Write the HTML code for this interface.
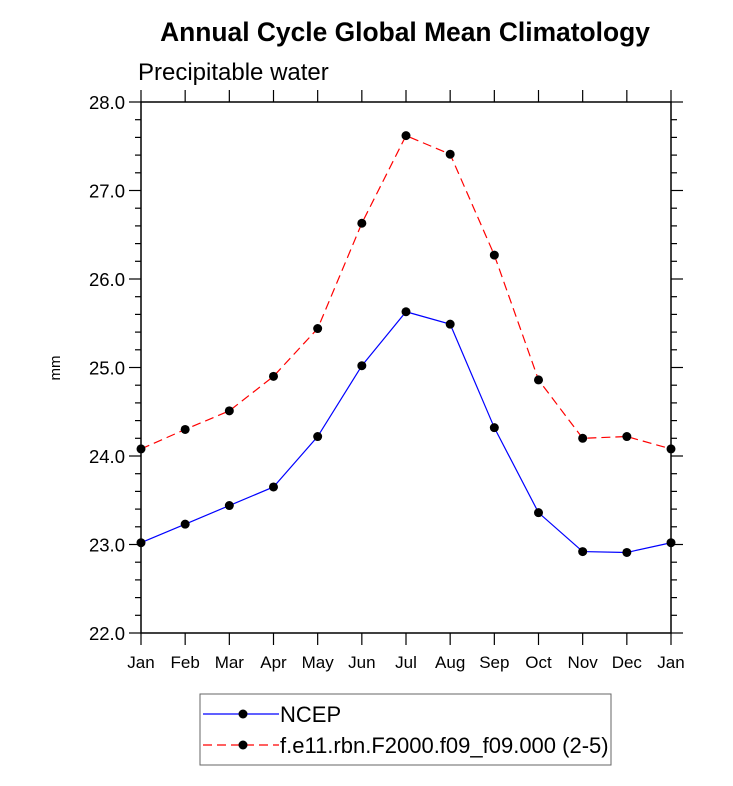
<!DOCTYPE html>
<html><head><meta charset="utf-8"><style>body{margin:0;background:#fff}svg{display:block;font-family:"Liberation Sans",sans-serif}</style></head>
<body>
<svg id="chart" width="733" height="786" xmlns="http://www.w3.org/2000/svg">
<text x="405" y="41" text-anchor="middle" font-size="26.4" font-weight="bold">Annual Cycle Global Mean Climatology</text>
<text x="138" y="80" font-size="24">Precipitable water</text>
<text transform="translate(60,368) rotate(-90)" text-anchor="middle" font-size="15">mm</text>
<g id="axes"></g><g id="series"></g>
<g>
<rect x="200" y="694" width="411" height="71" fill="#fff" stroke="#666" stroke-width="1"/>
<line x1="203" y1="714" x2="279" y2="714" stroke="#0000ff" stroke-width="1.2"/>
<circle cx="243" cy="714" r="4.5" fill="#000"/>
<text x="280" y="722" font-size="22">NCEP</text>
<line x1="203" y1="745" x2="279" y2="745" stroke="#ff0000" stroke-width="1.2" stroke-dasharray="9,5"/>
<circle cx="243" cy="745" r="4.5" fill="#000"/>
<text x="280" y="753" font-size="22">f.e11.rbn.F2000.f09_f09.000 (2-5)</text>
</g>
</svg>
<script>
const months=["Jan","Feb","Mar","Apr","May","Jun","Jul","Aug","Sep","Oct","Nov","Dec","Jan"];
const ncep=[23.02,23.23,23.44,23.65,24.22,25.02,25.63,25.49,24.32,23.36,22.92,22.91,23.02];
const model=[24.08,24.30,24.51,24.90,25.44,26.63,27.62,27.41,26.27,24.86,24.20,24.22,24.08];
const yTicks=["22.0","23.0","24.0","25.0","26.0","27.0","28.0"];
const L=141,R=671,T=102,B=633,yMin=22,yMax=28;
const NS="http://www.w3.org/2000/svg";
const xs=i=>L+(R-L)*i/(months.length-1);
const ys=v=>B-(B-T)*(v-yMin)/(yMax-yMin);
function mk(t,a,p){const e=document.createElementNS(NS,t);for(const k in a)e.setAttribute(k,a[k]);p.appendChild(e);return e;}
const ax=document.getElementById('axes');
const fr=mk('rect',{x:L,y:T,width:R-L,height:B-T,fill:'none',stroke:'#000','stroke-width':1.5},ax);


months.forEach((m,i)=>{const x=xs(i);
mk('line',{x1:x,y1:B,x2:x,y2:B+12,stroke:'#000','stroke-width':1.2},ax);
mk('line',{x1:x,y1:T,x2:x,y2:T-12,stroke:'#000','stroke-width':1.2},ax);
const t=mk('text',{x:x,y:B+35,'text-anchor':'middle','font-size':17},ax);t.textContent=m;

});
for(let v=yMin;v<=yMax+1e-6;v+=0.2){const y=ys(v);const maj=Math.abs(v-Math.round(v))<1e-6;const len=maj?12:6;
mk('line',{x1:L,y1:y,x2:L-len,y2:y,stroke:'#000','stroke-width':1.2},ax);
mk('line',{x1:R,y1:y,x2:R+len,y2:y,stroke:'#000','stroke-width':1.2},ax);}
yTicks.forEach(s=>{const t=mk('text',{x:L-16,y:ys(parseFloat(s))+7,'text-anchor':'end','font-size':18.5},ax);t.textContent=s;

});
const sg=document.getElementById('series');
function series(d,col,dash,name){
const p=mk('polyline',{points:d.map((v,i)=>xs(i)+','+ys(v)).join(' '),fill:'none',stroke:col,'stroke-width':1.2,'stroke-dasharray':dash},sg);


d.forEach((v,i)=>{const c=mk('circle',{cx:xs(i),cy:ys(v),r:4.5,fill:'#000'},sg);

});}
series(model,'#ff0000','9,5','model');
series(ncep,'#0000ff','none','ncep');
</script>
</body></html>
